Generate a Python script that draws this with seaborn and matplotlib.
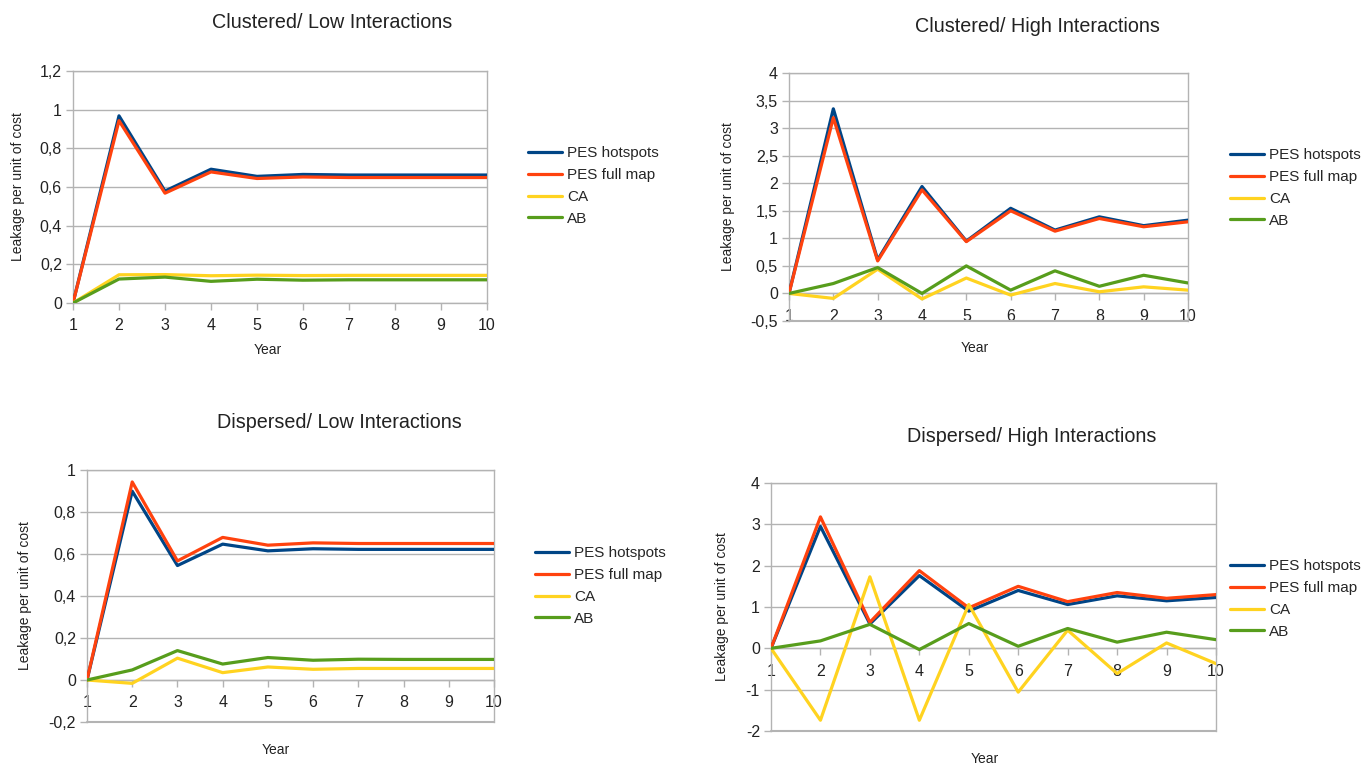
import numpy as np
import pandas as pd
import matplotlib
matplotlib.use("Agg")
import matplotlib.pyplot as plt
from matplotlib.ticker import FuncFormatter, MultipleLocator
import seaborn as sns

years = list(range(1, 11))
series_names = ["PES hotspots", "PES full map", "CA", "AB"]
colors = ["#004586", "#ff420e", "#ffd320", "#579d1c"]

# Clustered / Low Interactions
cl_low_hot = [0, 0.968, 0.579, 0.692, 0.655, 0.665, 0.662, 0.662, 0.662, 0.662]
cl_low_full = [0, 0.943, 0.568, 0.678, 0.644, 0.652, 0.649, 0.649, 0.649, 0.649]
cl_low_ca = [0, 0.146, 0.147, 0.141, 0.144, 0.142, 0.143, 0.143, 0.143, 0.143]
cl_low_ab = [0, 0.124, 0.134, 0.112, 0.123, 0.118, 0.120, 0.120, 0.120, 0.120]

# Clustered / High Interactions
cl_high_hot = [0, 3.35, 0.61, 1.94, 0.95, 1.545, 1.15, 1.39, 1.23, 1.33]
cl_high_full = [0, 3.19, 0.59, 1.88, 0.94, 1.50, 1.13, 1.36, 1.21, 1.30]
cl_high_ca = [0, -0.09, 0.44, -0.10, 0.28, -0.03, 0.18, 0.03, 0.12, 0.06]
cl_high_ab = [0, 0.18, 0.47, 0.0, 0.50, 0.06, 0.41, 0.13, 0.33, 0.19]

# Dispersed / Low Interactions
di_low_hot = [0, 0.899, 0.545, 0.647, 0.615, 0.625, 0.622, 0.622, 0.622, 0.622]
di_low_full = [0, 0.943, 0.567, 0.679, 0.642, 0.653, 0.650, 0.650, 0.650, 0.650]
di_low_ca = [0, -0.016, 0.104, 0.035, 0.062, 0.051, 0.055, 0.055, 0.055, 0.055]
di_low_ab = [0, 0.048, 0.140, 0.076, 0.107, 0.094, 0.099, 0.098, 0.098, 0.098]

# Dispersed / High Interactions
di_high_hot = [0, 2.95, 0.59, 1.76, 0.90, 1.40, 1.06, 1.27, 1.15, 1.23]
di_high_full = [0, 3.18, 0.63, 1.88, 0.98, 1.50, 1.13, 1.35, 1.21, 1.30]
di_high_ca = [0, -1.74, 1.73, -1.74, 1.06, -1.06, 0.44, -0.61, 0.13, -0.37]
di_high_ab = [0, 0.18, 0.58, -0.03, 0.60, 0.05, 0.48, 0.15, 0.39, 0.21]

titles = ["Clustered/ Low Interactions", "Clustered/ High Interactions",
          "Dispersed/ Low Interactions", "Dispersed/ High Interactions"]

sns.set_theme(style="white")
plt.rcParams["font.family"] = ["Liberation Sans", "DejaVu Sans"]

fig = plt.figure(figsize=(13.64, 7.68), dpi=100)

panels = [
    dict(data=[cl_low_hot, cl_low_full, cl_low_ca, cl_low_ab], ylim=(0, 1.2), step=0.2,
         rect=[73, 71, 487, 303], title=(332, 22), year=(268, 350), ylab=(18, 187),
         leg=(528, 146), axis0=False),
    dict(data=[cl_high_hot, cl_high_full, cl_high_ca, cl_high_ab], ylim=(-0.5, 4), step=0.5,
         rect=[789, 73, 1188, 321], title=(1037, 27), year=(975, 348), ylab=(728, 197),
         leg=(1230, 148), axis0=True),
    dict(data=[di_low_hot, di_low_full, di_low_ca, di_low_ab], ylim=(-0.2, 1.0), step=0.2,
         rect=[87, 470, 494, 722], title=(339, 422), year=(276, 750), ylab=(25, 596),
         leg=(535, 546), axis0=True),
    dict(data=[di_high_hot, di_high_full, di_high_ca, di_high_ab], ylim=(-2, 4), step=1,
         rect=[771, 483, 1216, 731], title=(1032, 436), year=(985, 759), ylab=(722, 607),
         leg=(1230, 559), axis0=True),
]

W, H = 1364, 768
grid_col = "#b3b3b3"

def fmt(v, pos):
    s = ("%.1f" % v).rstrip("0").rstrip(".")
    if s == "-0":
        s = "0"
    return s.replace(".", ",")

for i, p in enumerate(panels):
    l, t, r, b = p["rect"]
    ax = fig.add_axes([l / W, (H - b) / H, (r - l) / W, (b - t) / H])
    rows = []
    for name, vals in zip(series_names, p["data"]):
        for yr, v in zip(years, vals):
            rows.append({"Year": yr, "Value": v, "Series": name})
    df = pd.DataFrame(rows)
    sns.lineplot(data=df, x="Year", y="Value", hue="Series", hue_order=series_names,
                 palette=colors, linewidth=2.3, ax=ax, legend=False, zorder=3)
    ax.set_xlim(1, 10)
    ax.set_ylim(*p["ylim"])
    ax.set_xticks(years)
    ax.yaxis.set_major_locator(MultipleLocator(p["step"]))
    ax.yaxis.set_major_formatter(FuncFormatter(fmt))
    ax.grid(axis="y", color=grid_col, linewidth=1)
    ax.grid(axis="x", visible=False)
    for s in ax.spines.values():
        s.set_color(grid_col)
        s.set_linewidth(1)
    if p["axis0"]:
        ax.spines["bottom"].set_position(("data", 0))
        ax.axhline(p["ylim"][0], color=grid_col, linewidth=1.5, clip_on=False, zorder=1)
    ax.tick_params(axis="y", which="major", length=5, width=1, color=grid_col,
                   labelsize=11.5, labelcolor="#222222", direction="out", pad=3, left=True)
    ax.tick_params(axis="x", which="major", length=5, width=1, color=grid_col,
                   labelsize=11.5, labelcolor="#222222", direction="out", pad=6, bottom=True)
    ax.set_xlabel("")
    ax.set_ylabel("")
    fig.text(p["title"][0] / W, 1 - p["title"][1] / H, titles[i], ha="center", va="center",
             fontsize=14.2, color="#222222")
    fig.text(p["year"][0] / W, 1 - p["year"][1] / H, "Year", ha="center", va="center",
             fontsize=10, color="#222222")
    fig.text(p["ylab"][0] / W, 1 - p["ylab"][1] / H, "Leakage per unit of cost", ha="center",
             va="center", rotation=90, fontsize=10, color="#222222")
    handles = ax.get_lines()[:4]
    fig.legend(handles, series_names, loc="upper left",
               bbox_to_anchor=(p["leg"][0] / W, 1 - p["leg"][1] / H),
               frameon=False, fontsize=11, handlelength=2.2, handletextpad=0.35,
               labelspacing=0.52, borderaxespad=0, borderpad=0)

fig.savefig("out.png", dpi=100, facecolor="white")
